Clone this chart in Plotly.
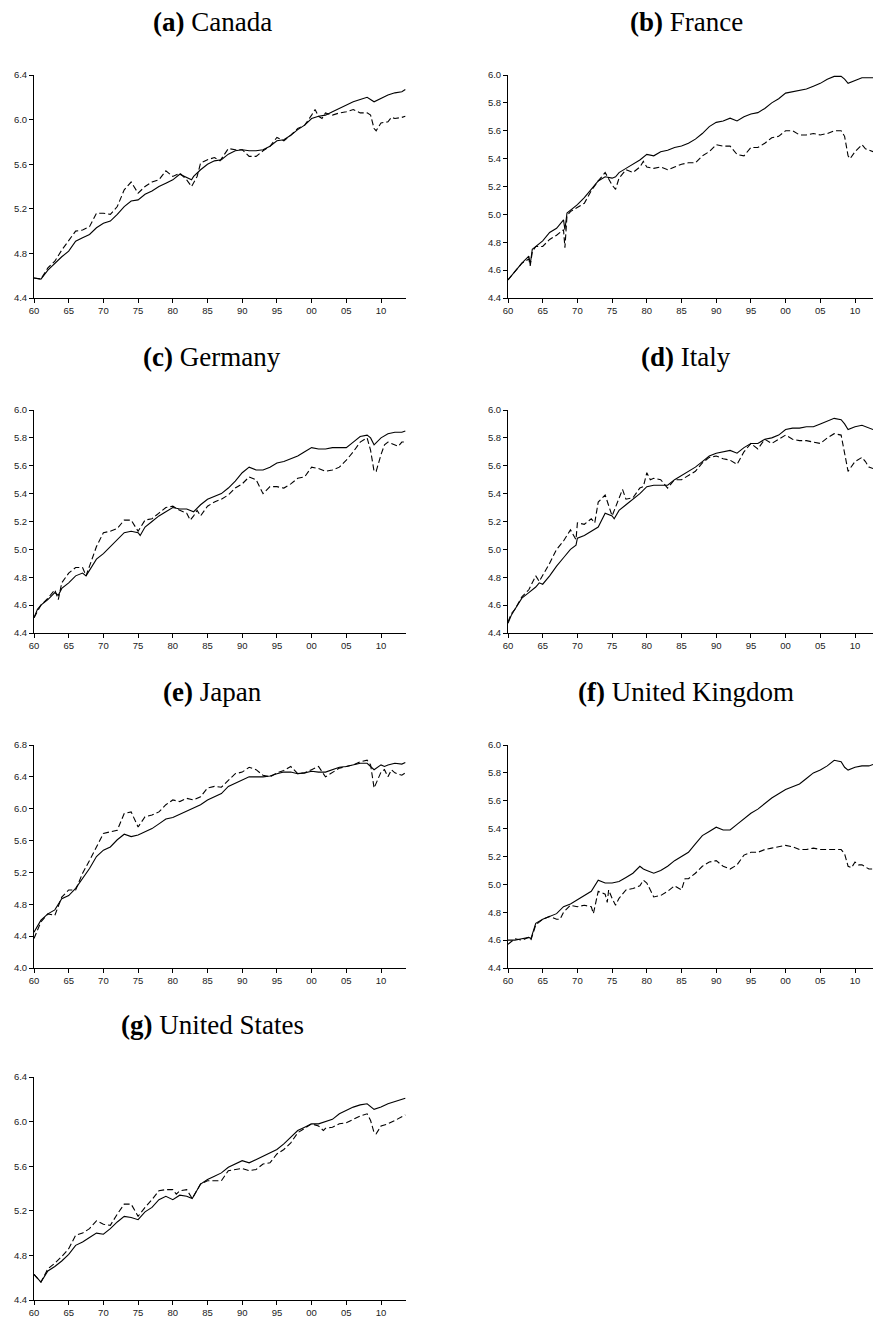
import plotly.graph_objects as go

# ---------------- data (year, log level) ----------------
canada_solid_x = [1960,1961,1962,1963,1964,1965,1966,1967,1968,1969,1970,1971,1972,1973,1974,1975,1976,1977,1978,1979,1980,1981,1982,1982.7,1983,1984,1985,1986,1987,1988,1989,1990,1991,1992,1993,1994,1995,1996,1997,1998,1999,2000,2001,2002,2003,2004,2005,2006,2007,2008,2009,2010,2011,2012,2013,2013.5]
canada_solid_y = [4.58,4.57,4.65,4.71,4.77,4.82,4.91,4.94,4.97,5.03,5.07,5.09,5.15,5.22,5.27,5.28,5.33,5.36,5.40,5.43,5.46,5.51,5.48,5.46,5.49,5.55,5.60,5.63,5.64,5.69,5.72,5.73,5.72,5.72,5.73,5.76,5.81,5.82,5.86,5.91,5.95,6.01,6.03,6.04,6.07,6.10,6.13,6.16,6.18,6.20,6.16,6.19,6.22,6.24,6.25,6.27]
canada_dash_x = [1960,1961,1962,1963,1964,1965,1966,1967,1968,1969,1970,1971,1972,1973,1974,1975,1976,1977,1978,1979,1980,1981,1982,1982.7,1983.5,1984,1985,1986,1986.8,1988,1989,1990,1991,1992,1993,1994,1995,1996,1997,1998,1999,2000,2000.5,2001,2001.5,2002,2003,2004,2005,2006,2007,2008,2008.5,2009,2009.3,2010,2011,2011.5,2012,2013,2013.5]
canada_dash_y = [4.58,4.57,4.67,4.73,4.83,4.91,5.00,5.01,5.04,5.16,5.16,5.15,5.22,5.37,5.44,5.34,5.40,5.44,5.46,5.54,5.49,5.52,5.46,5.40,5.49,5.61,5.64,5.66,5.63,5.74,5.73,5.73,5.67,5.67,5.72,5.76,5.84,5.81,5.86,5.92,5.95,6.04,6.09,6.03,6.01,6.06,6.04,6.06,6.07,6.09,6.06,6.06,6.04,5.92,5.90,5.97,5.98,6.02,6.01,6.02,6.03]

france_solid_x = [1960,1961,1962,1963,1963.2,1963.5,1964,1965,1966,1967,1968,1968.2,1968.5,1969,1970,1971,1972,1973,1974,1975,1975.5,1976,1977,1978,1979,1980,1981,1982,1983,1984,1985,1986,1987,1988,1989,1990,1991,1992,1993,1994,1995,1996,1997,1998,1999,2000,2001,2002,2003,2004,2005,2006,2007,2008,2008.5,2009,2010,2011,2012,2012.6]
france_solid_y = [4.53,4.59,4.65,4.70,4.64,4.75,4.77,4.81,4.87,4.90,4.96,4.89,5.01,5.03,5.07,5.12,5.18,5.24,5.27,5.26,5.27,5.30,5.33,5.36,5.39,5.43,5.42,5.45,5.46,5.48,5.49,5.51,5.54,5.58,5.63,5.66,5.67,5.69,5.67,5.70,5.72,5.73,5.76,5.80,5.83,5.87,5.88,5.89,5.90,5.92,5.94,5.97,5.99,5.99,5.97,5.94,5.96,5.98,5.98,5.98]
france_dash_x = [1960,1961,1962,1963,1963.2,1963.5,1964,1965,1966,1967,1968,1968.2,1968.5,1969,1970,1971,1972,1973,1974,1975,1975.5,1976,1977,1978,1979,1979.5,1980,1981,1982,1983,1984,1985,1986,1987,1988,1989,1990,1991,1992,1993,1994,1995,1996,1997,1998,1999,2000,2001,2002,2003,2004,2005,2006,2007,2008,2008.5,2009,2009.3,2010,2011,2011.5,2012,2012.6]
france_dash_y = [4.53,4.59,4.65,4.68,4.63,4.73,4.77,4.77,4.82,4.85,4.89,4.76,4.99,5.02,5.05,5.08,5.17,5.24,5.30,5.21,5.18,5.26,5.32,5.30,5.34,5.38,5.34,5.33,5.34,5.32,5.34,5.36,5.37,5.37,5.42,5.45,5.50,5.49,5.49,5.43,5.42,5.48,5.48,5.51,5.55,5.56,5.60,5.60,5.57,5.57,5.58,5.57,5.58,5.60,5.60,5.56,5.42,5.40,5.45,5.50,5.47,5.46,5.45]

germany_solid_x = [1960,1960.5,1961,1962,1963,1963.5,1964,1965,1966,1967,1967.5,1968,1969,1970,1971,1972,1973,1974,1975,1975.3,1976,1977,1978,1979,1980,1981,1982,1983,1984,1985,1986,1987,1988,1989,1990,1991,1992,1993,1994,1995,1996,1997,1998,1999,2000,2001,2002,2003,2004,2005,2006,2007,2008,2008.5,2009,2010,2011,2012,2013,2013.5]
germany_solid_y = [4.51,4.57,4.60,4.64,4.69,4.67,4.72,4.76,4.81,4.83,4.81,4.85,4.93,4.97,5.02,5.07,5.12,5.13,5.12,5.10,5.16,5.20,5.24,5.27,5.30,5.29,5.29,5.27,5.32,5.36,5.38,5.40,5.44,5.49,5.55,5.59,5.57,5.57,5.59,5.62,5.63,5.65,5.67,5.70,5.73,5.72,5.72,5.73,5.73,5.73,5.77,5.81,5.82,5.80,5.75,5.80,5.83,5.84,5.84,5.85]
germany_dash_x = [1960,1961,1962,1963,1963.5,1964,1965,1966,1967,1967.5,1968,1969,1970,1971,1972,1973,1974,1975,1976,1977,1978,1979,1980,1981,1982,1982.5,1983,1983.5,1984,1985,1986,1987,1988,1989,1990,1991,1992,1993,1994,1995,1996,1997,1998,1999,2000,2001,2002,2003,2004,2005,2006,2007,2008,2008.5,2009,2009.3,2010,2010.5,2011,2012,2012.5,2013,2013.5]
germany_dash_y = [4.51,4.60,4.65,4.71,4.64,4.76,4.83,4.87,4.87,4.81,4.88,5.02,5.12,5.13,5.15,5.21,5.21,5.13,5.21,5.22,5.26,5.30,5.31,5.28,5.26,5.21,5.24,5.28,5.24,5.31,5.34,5.36,5.39,5.44,5.47,5.52,5.50,5.40,5.45,5.45,5.44,5.47,5.51,5.52,5.59,5.58,5.56,5.57,5.59,5.64,5.70,5.77,5.80,5.71,5.56,5.56,5.68,5.75,5.77,5.75,5.74,5.77,5.77]

italy_solid_x = [1960,1960.5,1961,1962,1963,1964,1964.5,1965,1966,1967,1968,1969,1969.8,1970,1971,1972,1973,1974,1975,1975.3,1976,1977,1978,1979,1980,1981,1982,1983,1984,1985,1986,1987,1988,1989,1990,1991,1992,1993,1994,1995,1996,1997,1998,1999,2000,2001,2002,2003,2004,2005,2006,2007,2008,2008.5,2009,2010,2011,2012,2012.6]
italy_solid_y = [4.47,4.53,4.57,4.65,4.69,4.73,4.76,4.75,4.81,4.88,4.94,5.00,5.03,5.08,5.10,5.13,5.16,5.26,5.24,5.22,5.28,5.32,5.36,5.40,5.45,5.46,5.46,5.46,5.50,5.53,5.56,5.59,5.63,5.67,5.69,5.70,5.71,5.69,5.73,5.76,5.76,5.79,5.80,5.82,5.86,5.87,5.87,5.88,5.88,5.90,5.92,5.94,5.93,5.90,5.86,5.88,5.89,5.87,5.86]
italy_dash_x = [1960,1960.5,1961,1962,1963,1964,1964.5,1965,1966,1967,1968,1969,1969.8,1970,1971,1972,1972.5,1973,1974,1975,1976,1976.5,1977,1978,1979,1979.5,1980,1980.5,1981,1982,1983,1984,1985,1986,1987,1988,1989,1990,1991,1992,1993,1994,1995,1996,1997,1998,1999,2000,2001,2002,2003,2004,2005,2006,2007,2008,2008.5,2009,2010,2011,2011.5,2012,2012.6]
italy_dash_y = [4.48,4.54,4.57,4.66,4.71,4.81,4.77,4.81,4.90,5.00,5.06,5.14,5.07,5.19,5.18,5.22,5.19,5.34,5.39,5.24,5.36,5.43,5.36,5.37,5.44,5.45,5.55,5.50,5.51,5.50,5.44,5.50,5.50,5.53,5.56,5.62,5.66,5.67,5.65,5.64,5.61,5.70,5.76,5.72,5.79,5.76,5.79,5.82,5.79,5.78,5.78,5.77,5.76,5.80,5.83,5.82,5.69,5.56,5.63,5.66,5.63,5.59,5.58]

japan_solid_x = [1960,1961,1962,1963,1964,1965,1966,1967,1968,1969,1970,1971,1972,1973,1974,1975,1976,1977,1978,1979,1980,1981,1982,1983,1984,1985,1986,1987,1988,1989,1990,1991,1992,1993,1994,1995,1996,1997,1998,1999,2000,2001,2002,2003,2004,2005,2006,2007,2008,2008.7,2009,2010,2010.5,2011,2012,2013,2013.5]
japan_solid_y = [4.45,4.60,4.68,4.73,4.87,4.91,5.00,5.12,5.25,5.40,5.48,5.52,5.61,5.68,5.65,5.67,5.71,5.75,5.81,5.87,5.89,5.93,5.96,6.00,6.05,6.11,6.15,6.19,6.28,6.32,6.37,6.40,6.40,6.40,6.41,6.44,6.46,6.46,6.44,6.45,6.47,6.46,6.46,6.49,6.52,6.53,6.55,6.57,6.57,6.51,6.49,6.55,6.53,6.55,6.57,6.56,6.58]
japan_dash_x = [1960,1961,1962,1963,1964,1965,1966,1967,1968,1969,1970,1971,1972,1973,1974,1975,1976,1977,1978,1979,1980,1981,1982,1983,1984,1985,1986,1987,1988,1989,1990,1991,1992,1993,1994,1995,1996,1997,1998,1999,2000,2001,2002,2003,2004,2005,2006,2007,2008,2008.5,2009,2009.5,2010,2010.5,2011,2011.5,2012,2013,2013.5]
japan_dash_y = [4.37,4.58,4.68,4.66,4.89,4.98,4.98,5.19,5.35,5.52,5.69,5.71,5.73,5.94,5.96,5.77,5.90,5.92,5.96,6.05,6.11,6.09,6.13,6.11,6.15,6.26,6.28,6.27,6.36,6.44,6.46,6.52,6.49,6.42,6.40,6.45,6.48,6.53,6.44,6.45,6.49,6.53,6.40,6.45,6.51,6.53,6.55,6.59,6.61,6.55,6.26,6.36,6.46,6.49,6.40,6.49,6.45,6.42,6.45]

uk_solid_x = [1960,1961,1962,1963,1963.3,1964,1965,1966,1967,1968,1969,1970,1971,1972,1973,1974,1975,1976,1977,1978,1979,1979.5,1980,1981,1982,1983,1984,1985,1986,1987,1988,1989,1990,1991,1992,1993,1994,1995,1996,1997,1998,1999,2000,2001,2002,2003,2004,2005,2006,2007,2008,2008.5,2009,2010,2011,2012,2012.6]
uk_solid_y = [4.60,4.60,4.61,4.62,4.61,4.72,4.75,4.77,4.79,4.84,4.86,4.89,4.92,4.95,5.03,5.01,5.01,5.02,5.05,5.08,5.13,5.11,5.10,5.08,5.10,5.13,5.17,5.20,5.23,5.29,5.35,5.38,5.41,5.39,5.39,5.43,5.47,5.51,5.54,5.58,5.62,5.65,5.68,5.70,5.72,5.76,5.80,5.82,5.85,5.89,5.88,5.84,5.82,5.84,5.85,5.85,5.86]
uk_dash_x = [1960,1961,1962,1963,1963.3,1964,1965,1966,1967,1967.5,1968,1969,1970,1971,1972,1972.3,1973,1974,1974.3,1974.5,1975,1975.5,1976,1977,1978,1979,1979.5,1980,1981,1982,1983,1984,1985,1985.5,1986,1987,1988,1989,1990,1991,1992,1993,1994,1995,1996,1997,1998,1999,2000,2001,2002,2003,2004,2005,2006,2007,2008,2008.5,2009,2009.5,2010,2010.5,2011,2012,2012.6]
uk_dash_y = [4.57,4.61,4.60,4.62,4.60,4.71,4.75,4.77,4.75,4.75,4.80,4.85,4.84,4.85,4.84,4.79,4.95,4.93,4.87,4.96,4.90,4.85,4.90,4.96,4.97,4.99,5.03,5.01,4.91,4.92,4.95,4.99,4.96,5.04,5.04,5.08,5.13,5.16,5.17,5.13,5.11,5.14,5.21,5.23,5.23,5.25,5.26,5.27,5.28,5.27,5.25,5.25,5.26,5.25,5.25,5.25,5.25,5.22,5.13,5.12,5.16,5.14,5.14,5.11,5.11]

us_solid_x = [1960,1960.5,1961,1962,1963,1964,1965,1966,1967,1968,1969,1970,1971,1972,1973,1974,1975,1976,1977,1978,1979,1980,1981,1982,1982.8,1984,1985,1986,1987,1988,1989,1990,1991,1992,1993,1994,1995,1996,1997,1998,1999,2000,2001,2002,2003,2004,2005,2006,2007,2008,2009,2010,2011,2012,2013,2013.5]
us_solid_y = [4.63,4.59,4.56,4.66,4.70,4.75,4.81,4.89,4.92,4.96,5.00,4.99,5.04,5.10,5.15,5.14,5.12,5.19,5.23,5.30,5.33,5.30,5.34,5.33,5.31,5.44,5.48,5.51,5.54,5.59,5.62,5.65,5.63,5.66,5.69,5.72,5.75,5.80,5.86,5.92,5.95,5.98,5.98,6.00,6.02,6.07,6.10,6.13,6.15,6.16,6.11,6.13,6.16,6.18,6.20,6.21]
us_dash_x = [1960,1960.5,1961,1962,1963,1964,1965,1966,1967,1968,1969,1970,1971,1972,1973,1974,1975,1976,1977,1978,1979,1980,1980.5,1981,1982,1982.8,1984,1985,1986,1987,1988,1989,1990,1991,1992,1993,1994,1995,1996,1997,1998,1999,2000,2001,2001.7,2002,2003,2004,2005,2006,2007,2008,2008.5,2009,2009.3,2010,2011,2012,2013,2013.5]
us_dash_y = [4.63,4.59,4.56,4.68,4.73,4.79,4.86,4.98,5.00,5.04,5.11,5.08,5.07,5.17,5.26,5.26,5.15,5.23,5.30,5.38,5.39,5.39,5.35,5.38,5.39,5.31,5.44,5.47,5.47,5.47,5.56,5.57,5.58,5.56,5.57,5.62,5.63,5.71,5.75,5.81,5.90,5.94,5.98,5.96,5.92,5.94,5.95,5.98,5.99,6.02,6.05,6.07,6.01,5.90,5.89,5.96,5.98,6.01,6.04,6.06]

titles = ["<b>(a)</b> Canada", "<b>(b)</b> France", "<b>(c)</b> Germany", "<b>(d)</b> Italy",
          "<b>(e)</b> Japan", "<b>(f)</b> United Kingdom", "<b>(g)</b> United States"]
y_ranges = [(4.4, 6.4), (4.4, 6.0), (4.4, 6.0), (4.4, 6.0), (4.0, 6.8), (4.4, 6.0), (4.4, 6.4)]
y_steps = [0.4, 0.2, 0.2, 0.2, 0.4, 0.2, 0.4]
x_tickvals = [1960, 1965, 1970, 1975, 1980, 1985, 1990, 1995, 2000, 2005, 2010]
x_ticktext = ["60", "65", "70", "75", "80", "85", "90", "95", "00", "05", "10"]

series = [
    (canada_solid_x, canada_solid_y, canada_dash_x, canada_dash_y),
    (france_solid_x, france_solid_y, france_dash_x, france_dash_y),
    (germany_solid_x, germany_solid_y, germany_dash_x, germany_dash_y),
    (italy_solid_x, italy_solid_y, italy_dash_x, italy_dash_y),
    (japan_solid_x, japan_solid_y, japan_dash_x, japan_dash_y),
    (uk_solid_x, uk_solid_y, uk_dash_x, uk_dash_y),
    (us_solid_x, us_solid_y, us_dash_x, us_dash_y),
]

# ---------------- layout geometry (pixels) ----------------
W, H = 873, 1319
px_per_year = (406 - 34) / 53.6
col_left = [34, 508]
col_right = [406, 873]
row_top = [75, 410, 745, 1077]
row_bot = [298, 633, 968, 1300]
title_y = [22, 357, 692, 1025]
tick_font = dict(family="Liberation Sans, Arial", size=9.5, color="#222")

fig = go.Figure()
layout = dict(
    width=W, height=H, margin=dict(l=0, r=0, t=0, b=0),
    paper_bgcolor="white", plot_bgcolor="white", showlegend=False,
    annotations=[],
)

for i, (sx, sy, dx, dy) in enumerate(series):
    r, c = divmod(i, 2)
    n = "" if i == 0 else str(i + 1)
    xa, ya = "x" + n, "y" + n
    fig.add_trace(go.Scatter(x=sx, y=sy, mode="lines", xaxis=xa, yaxis=ya,
                             line=dict(color="black", width=1.1), hoverinfo="skip"))
    fig.add_trace(go.Scatter(x=dx, y=dy, mode="lines", xaxis=xa, yaxis=ya,
                             line=dict(color="black", width=1.1, dash="6px,3px"), hoverinfo="skip"))
    x0, x1 = col_left[c], col_right[c]
    xmax = 1960 + (x1 - x0) / px_per_year
    lo, hi = y_ranges[i]
    nt = int(round((hi - lo) / y_steps[i]))
    yt = [round(lo + k * y_steps[i], 2) for k in range(nt + 1)]
    layout["xaxis" + n] = dict(
        domain=[x0 / W, x1 / W], range=[1960, xmax], anchor=ya,
        tickmode="array", tickvals=x_tickvals, ticktext=x_ticktext,
        showgrid=False, zeroline=False, showline=True, linecolor="black", linewidth=1,
        ticks="outside", ticklen=4, tickcolor="black", tickwidth=1,
        tickfont=tick_font, fixedrange=True, automargin=False,
    )
    layout["yaxis" + n] = dict(
        domain=[1 - row_bot[r] / H, 1 - row_top[r] / H], range=[lo, hi], anchor=xa,
        tickmode="array", tickvals=yt, ticktext=["%.1f" % v for v in yt],
        showgrid=False, zeroline=False, showline=True, linecolor="black", linewidth=1,
        ticks="outside", ticklen=4, tickcolor="black", tickwidth=1,
        tickfont=tick_font, fixedrange=True, automargin=False,
    )
    layout["annotations"].append(dict(
        text=titles[i], xref="paper", yref="paper",
        x=(x0 + 178) / W, y=1 - title_y[r] / H, xanchor="center", yanchor="middle",
        showarrow=False, font=dict(family="Liberation Serif, Times New Roman, serif", size=27, color="black"),
    ))

fig.update_layout(**layout)
fig.write_html(
    "out.html",
    config={"displayModeBar": False, "staticPlot": True},
    post_script="document.body.style.margin='0';document.body.style.overflow='hidden';",
)
